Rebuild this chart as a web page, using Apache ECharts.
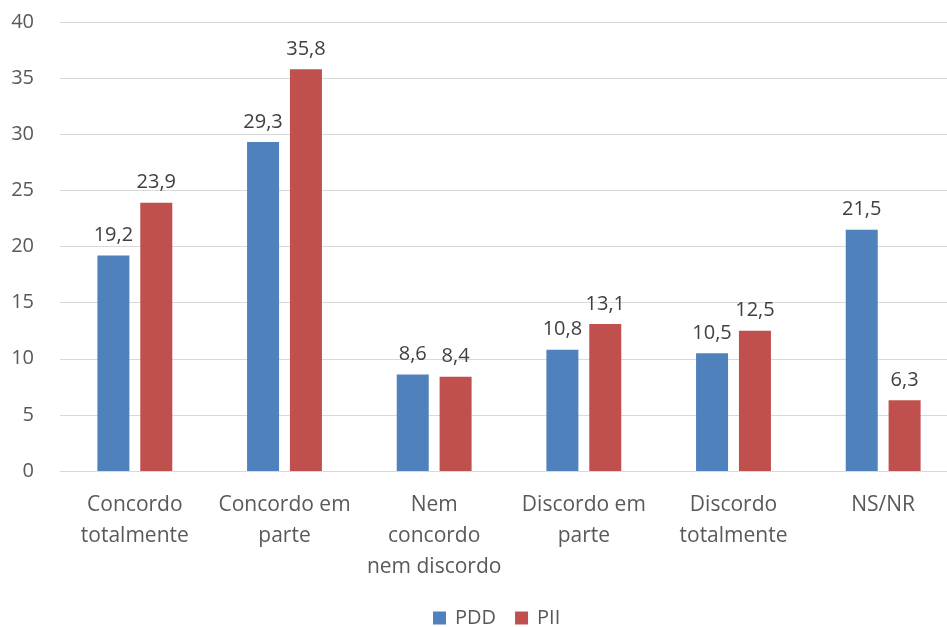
<!DOCTYPE html>
<html>
<head>
<meta charset="utf-8">
<script src="https://cdn.jsdelivr.net/npm/echarts@6/dist/echarts.min.js"></script>
<style>
  html, body { margin: 0; padding: 0; background: #fff; overflow: hidden; }
  #chart { width: 958px; height: 627px; }
</style>
</head>
<body>
<div id="chart"></div>
<script>
// categorias e valores (%)
var categories = ['Concordo\ntotalmente', 'Concordo em\nparte', 'Nem\nconcordo\nnem discordo', 'Discordo em\nparte', 'Discordo\ntotalmente', 'NS/NR'];
var pddValues = [19.2, 29.3, 8.6, 10.8, 10.5, 21.5];
var piiValues = [23.9, 35.8, 8.4, 13.1, 12.5, 6.3];
var yTicks = { min: 0, max: 40, interval: 5 };

var fontFamily = '"Open Sans", "Noto Sans", sans-serif';
var textColor = '#595959';

function commaLabel(p) {
    return String(p.value).replace('.', ',');
}

function makeSeries(name, color, data) {
    return {
        name: name,
        type: 'bar',
        barWidth: 32,
        barGap: '34%',
        itemStyle: { color: color },
        label: {
            show: true,
            position: 'top',
            distance: 10,
            color: '#404040',
            fontFamily: fontFamily,
            fontSize: 20,
            formatter: commaLabel
        },
        data: data
    };
}

var chart = echarts.init(document.getElementById('chart'));
chart.setOption({
    animation: false,
    grid: { left: 60, right: 0, top: 22, bottom: 156 },
    legend: {
        top: 603,
        left: 428,
        itemWidth: 13,
        itemHeight: 13,
        itemGap: 19,
        icon: 'rect',
        textStyle: { color: textColor, fontFamily: fontFamily, fontSize: 20, padding: [0, 0, 0, 4] },
        data: ['PDD', 'PII']
    },
    xAxis: {
        type: 'category',
        data: categories,
        axisLine: { lineStyle: { color: '#d9d9d9', width: 1 } },
        axisTick: { show: false },
        axisLabel: {
            color: textColor,
            fontFamily: fontFamily,
            fontSize: 21,
            lineHeight: 31,
            margin: 19,
            interval: 0
        }
    },
    yAxis: {
        type: 'value',
        min: yTicks.min,
        max: yTicks.max,
        interval: yTicks.interval,
        axisLine: { show: false },
        axisTick: { show: false },
        splitLine: { lineStyle: { color: '#d9d9d9', width: 1 } },
        axisLabel: {
            color: textColor,
            fontFamily: fontFamily,
            fontSize: 20,
            margin: 26
        }
    },
    series: [
        makeSeries('PDD', '#4f81bd', pddValues),
        makeSeries('PII', '#c0504d', piiValues)
    ]
});

window.addEventListener('resize', function () {
    chart.resize();
});
</script>
</body>
</html>
